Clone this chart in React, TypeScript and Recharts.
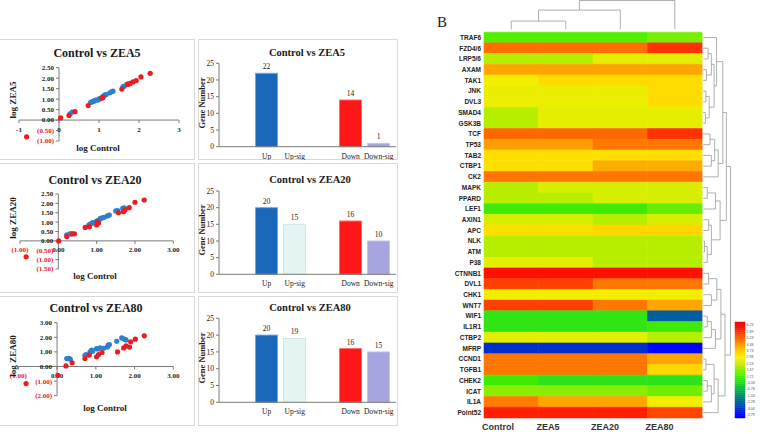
import {
  ScatterChart,
  Scatter,
  BarChart,
  Bar,
  Cell,
  LabelList,
  ComposedChart,
  XAxis,
  YAxis,
  ReferenceLine,
  ReferenceDot,
  ReferenceArea,
} from "recharts";

const SERIF = '"Liberation Serif", "Times New Roman", serif';
const SANS = '"Liberation Sans", Arial, sans-serif';
const INK = "#1a1a1a";
const NEG_RED = "#E8161E";
const AXIS = "#7a7a7a";
const FRAME = "#d9d9d9";
const DOT_BLUE = "#2E7FD0";
const DOT_RED = "#EA1C22";

type Pt = [number, number];

// log10 expression: control (x) vs treatment (y); up = blue, down = red
const ZEA5_UP: Pt[] = [
  [0.28, 0.3], [0.33, 0.38], [0.79, 0.84], [0.83, 0.87], [0.86, 0.91], [0.9, 0.93],
  [0.98, 0.96], [1.02, 1.03], [1.08, 1.1], [1.15, 1.2], [1.18, 1.22], [1.27, 1.3],
  [1.32, 1.36], [1.35, 1.38], [1.6, 1.6], [1.63, 1.62], [1.7, 1.72], [1.73, 1.72],
  [0.86, 0.89], [1.0, 1.0], [1.12, 1.15], [0.92, 0.95],
];
const ZEA5_DOWN: Pt[] = [
  [-0.81, -0.8], [0.04, 0.1], [0.25, 0.22], [0.4, 0.4], [0.73, 0.69], [1.07, 1.04],
  [1.1, 1.08], [1.57, 1.48], [1.72, 1.7], [1.78, 1.75], [1.85, 1.82], [1.93, 1.89],
  [2.05, 2.06], [2.28, 2.23],
];
const ZEA20_UP: Pt[] = [
  [0.22, 0.32], [0.3, 0.37], [0.33, 0.38], [0.8, 0.86], [0.83, 0.9], [0.88, 0.95],
  [0.9, 0.97], [1.0, 1.06], [1.05, 1.1], [1.09, 1.17], [1.16, 1.24], [1.2, 1.26],
  [1.28, 1.33], [1.33, 1.38], [1.5, 1.6], [1.55, 1.62], [1.68, 1.74], [1.72, 1.76],
  [1.74, 1.7], [1.1, 1.2],
];
const ZEA20_DOWN: Pt[] = [
  [-0.84, -0.85], [0.01, 0.0], [0.22, 0.23], [0.37, 0.37], [0.42, 0.38], [0.7, 0.72],
  [0.81, 0.76], [1.0, 0.85], [1.02, 1.03], [1.05, 0.95], [1.57, 1.5], [1.7, 1.56],
  [1.74, 1.65], [1.85, 1.77], [2.0, 2.06], [2.24, 2.18],
];
const ZEA80_UP: Pt[] = [
  [0.25, 0.54], [0.34, 0.5], [0.3, 0.55], [0.72, 0.77], [0.75, 0.82], [0.85, 1.0],
  [0.89, 1.12], [0.92, 1.05], [1.02, 1.23], [1.05, 1.2], [1.11, 1.28], [1.2, 1.25],
  [1.32, 1.46], [1.35, 1.5], [1.3, 1.34], [1.54, 1.73], [1.67, 1.96], [1.72, 1.9],
  [1.76, 1.85], [1.78, 1.82],
];
const ZEA80_DOWN: Pt[] = [
  [-0.8, -1.17], [0.02, -0.6], [0.23, 0.04], [0.39, 0.25], [0.72, 0.55], [0.83, 0.78],
  [1.02, 0.66], [1.07, 0.82], [1.16, 0.96], [1.56, 1.0], [1.72, 1.27], [1.78, 1.41],
  [1.87, 1.33], [1.9, 1.69], [2.02, 1.87], [2.25, 2.1],
];

const X_TICKS = [-1, 0, 1, 2, 3];
const ZEA5_Y_TICKS = [-1, -0.5, 0, 0.5, 1, 1.5, 2, 2.5];
const ZEA20_Y_TICKS = [-1.5, -1, -0.5, 0, 0.5, 1, 1.5, 2, 2.5];
const ZEA80_Y_TICKS = [-2, -1, 0, 1, 2, 3];

// differentially expressed gene counts
const DEG_LABELS = ["Up", "Up-sig", "", "Down", "Down-sig"];
const ZEA5_DEG = [22, 0, null, 14, 1];
const ZEA20_DEG = [20, 15, null, 16, 10];
const ZEA80_DEG = [20, 19, null, 16, 15];
const DEG_TICKS = [0, 5, 10, 15, 20, 25];

const DEG_FILL = ["#1B67BA", "#E4F4F3", "transparent", "#FF1616", "#A5A5DF"];
const DEG_EDGE = ["#70A8DE", "#CFE6E6", "transparent", "#FF7070", "#C4C4EC"];

// heatmap
const GROUPS = ["Control", "ZEA5", "ZEA20", "ZEA80"];
const GENES = [
  "TRAF6", "FZD4/6", "LRP5/6", "AXAM", "TAK1", "JNK", "DVL3", "SMAD4", "GSK3B",
  "TCF", "TP53", "TAB2", "CTBP1", "CK2", "MAPK", "PPARD", "LEF1", "AXIN1", "APC",
  "NLK", "ATM", "P38", "CTNNB1", "DVL1", "CHK1", "WNT7", "WIF1", "IL1R1", "CTBP2",
  "MFRP", "CCND1", "TGFB1", "CHEK2", "ICAT", "IL1A", "Point52",
];
const EXPR: number[][] = [
  [0.9, 0.9, 0.9, 1.3],
  [5.1, 5.1, 5.1, 6.0],
  [2.0, 2.0, 2.6, 2.6],
  [4.3, 4.3, 4.3, 4.3],
  [2.8, 3.4, 3.4, 3.4],
  [2.7, 2.7, 2.7, 3.4],
  [2.7, 2.7, 2.7, 3.4],
  [2.0, 2.6, 2.6, 2.6],
  [2.0, 2.6, 2.6, 2.6],
  [5.2, 5.2, 5.2, 6.0],
  [4.4, 4.4, 5.0, 5.0],
  [3.3, 3.3, 3.3, 3.3],
  [3.3, 3.3, 4.2, 4.2],
  [5.0, 5.0, 5.0, 5.0],
  [2.0, 2.4, 2.4, 2.4],
  [2.0, 2.0, 2.4, 2.4],
  [0.6, 0.6, 0.6, 1.1],
  [2.4, 2.4, 2.0, 2.4],
  [3.3, 3.3, 3.5, 3.5],
  [2.0, 2.0, 2.0, 2.0],
  [2.0, 2.0, 2.0, 2.0],
  [2.6, 2.6, 2.0, 2.0],
  [6.5, 6.5, 6.5, 6.5],
  [5.8, 5.8, 5.0, 5.0],
  [2.8, 2.8, 2.8, 2.8],
  [5.8, 5.8, 5.0, 4.3],
  [0.3, 0.3, 0.3, -2.4],
  [0.3, 0.3, 0.3, 0.6],
  [2.6, 2.6, 2.6, 2.0],
  [-3.1, -3.1, -3.1, -3.7],
  [5.0, 5.0, 5.0, 4.3],
  [5.0, 5.0, 5.0, 3.5],
  [0.6, 0.2, 0.2, 0.2],
  [1.5, 1.5, 1.5, 1.2],
  [4.9, 4.3, 4.3, 2.8],
  [6.3, 6.3, 6.3, 5.7],
];
const SCALE_STOPS = [
  6.74, 5.99, 5.23, 4.48, 3.73, 2.98, 2.23, 1.47, 0.72, -0.03, -0.78, -1.53, -2.28, -3.04, -3.79,
];
const SCALE_COLORS = [
  "#ff0000", "#ff3300", "#ff6600", "#ff9900", "#ffcc00", "#ffee00", "#ccee00", "#88ee00",
  "#44ee00", "#22dd22", "#00bb44", "#008877", "#006699", "#0033cc", "#0000ff",
];

// clustering trees: leaf = index, node = [left, right, merge height 0..1]
type Tree = number | [Tree, Tree, number];
const COL_TREE: Tree = [[[0, 1, 0.29], 2, 0.67], 3, 1];
const ROW_TREE: Tree = [
  [
    [
      [0, [[[1, 2, 0.18], [3, 4, 0.12], 0.3], [[5, 6, 0.1], [7, 8, 0.08], 0.22], 0.4], 0.49],
      [[[9, 10, 0.25], [11, 12, 0.3], 0.42], 13, 0.55],
      0.72,
    ],
    [[[14, 15, 0.15], 16, 0.45], [[17, 18, 0.2], [[19, 20, 0.05], 21, 0.15], 0.3], 0.62],
    0.85,
  ],
  [
    [[[22, 23, 0.2], [24, 25, 0.3], 0.5], [[[26, 27, 0.15], 28, 0.3], 29, 0.45], 0.65],
    [[[30, 31, 0.1], [[32, 33, 0.15], 34, 0.3], 0.4], 35, 0.55],
    0.8,
  ],
  1,
];

const hex = (c: string) => [1, 3, 5].map((i) => parseInt(c.slice(i, i + 2), 16));

function heatColor(v: number) {
  if (v >= SCALE_STOPS[0]) return SCALE_COLORS[0];
  for (let i = 1; i < SCALE_STOPS.length; i++) {
    if (v >= SCALE_STOPS[i]) {
      const t = (v - SCALE_STOPS[i]) / (SCALE_STOPS[i - 1] - SCALE_STOPS[i]);
      const a = hex(SCALE_COLORS[i]);
      const b = hex(SCALE_COLORS[i - 1]);
      const rgb = a.map((c, k) => Math.round(c + (b[k] - c) * t));
      return `rgb(${rgb.join(",")})`;
    }
  }
  return SCALE_COLORS[SCALE_COLORS.length - 1];
}

// [pos1, h1, pos2, h2] segments of an elbow dendrogram
function dendro(tree: Tree) {
  const segs: number[][] = [];
  const walk = (t: Tree): { pos: number; h: number } => {
    if (typeof t === "number") return { pos: t + 0.5, h: 0 };
    const a = walk(t[0]);
    const b = walk(t[1]);
    segs.push([a.pos, a.h, a.pos, t[2]], [b.pos, b.h, b.pos, t[2]], [a.pos, t[2], b.pos, t[2]]);
    return { pos: (a.pos + b.pos) / 2, h: t[2] };
  };
  walk(tree);
  return segs;
}

const fmt2 = (v: number) => (v < 0 ? `(${Math.abs(v).toFixed(2)})` : v.toFixed(2));
const noMark = () => <g />;

function Txt({ x, y, size, children, rotate = false, family = SERIF, weight = 700, color = INK }: any) {
  return (
    <div
      style={{
        position: "absolute",
        left: x,
        top: y,
        transform: `translate(-50%, -50%)${rotate ? " rotate(-90deg)" : ""}`,
        fontSize: size,
        fontWeight: weight,
        fontFamily: family,
        color,
        whiteSpace: "nowrap",
        lineHeight: 1,
      }}
    >
      {children}
    </div>
  );
}

function Frame({ x, y, w, h }: any) {
  return (
    <div
      style={{
        position: "absolute",
        left: x,
        top: y,
        width: w,
        height: h,
        border: `1px solid ${FRAME}`,
        boxSizing: "border-box",
      }}
    />
  );
}

const xTickShape = (label: string, color: string) => (p: any) => (
  <g>
    <line x1={p.cx} y1={p.cy} x2={p.cx} y2={p.cy + 3} stroke={AXIS} />
    <text x={p.cx} y={p.cy + 11.5} textAnchor="middle" fontSize={7} fontWeight={700} fontFamily={SERIF} fill={color}>
      {label}
    </text>
  </g>
);

const yTickShape = (label: string, color: string) => (p: any) => (
  <g>
    <line x1={p.cx - 3} y1={p.cy} x2={p.cx} y2={p.cy} stroke={AXIS} />
    <text x={p.cx - 5} y={p.cy + 2.4} textAnchor="end" fontSize={7} fontWeight={700} fontFamily={SERIF} fill={color}>
      {label}
    </text>
  </g>
);

const SCATTER_PANELS = [
  {
    name: "ZEA5", up: ZEA5_UP, down: ZEA5_DOWN, yTicks: ZEA5_Y_TICKS, xFmt: (v: number) => String(v),
    top: 39, height: 121, margin: { top: 28.7, right: 17, bottom: 19, left: 19 },
    title: [97, 53], xTitle: [98, 148], yTitle: [13, 100],
  },
  {
    name: "ZEA20", up: ZEA20_UP, down: ZEA20_DOWN, yTicks: ZEA20_Y_TICKS, xFmt: fmt2,
    top: 163, height: 130, margin: { top: 31, right: 22.7, bottom: 24, left: 20 },
    title: [95, 180], xTitle: [95, 276], yTitle: [13, 218],
  },
  {
    name: "ZEA80", up: ZEA80_UP, down: ZEA80_DOWN, yTicks: ZEA80_Y_TICKS, xFmt: fmt2,
    top: 296, height: 130, margin: { top: 26.7, right: 22.7, bottom: 30.3, left: 18.3 },
    title: [96, 308], xTitle: [105, 408], yTitle: [13, 356],
  },
];

const DEG_PANELS = [
  { name: "ZEA5", counts: ZEA5_DEG, top: 39, height: 121, plotTop: 63.3, plotBottom: 146.7, title: [307, 53], yTitle: [202, 103] },
  { name: "ZEA20", counts: ZEA20_DEG, top: 163, height: 130, plotTop: 191, plotBottom: 274.3, title: [310, 180], yTitle: [202, 230] },
  { name: "ZEA80", counts: ZEA80_DEG, top: 296, height: 130, plotTop: 318.3, plotBottom: 402.3, title: [310, 308], yTitle: [202, 358] },
];

function ScatterPanel({ p }: any) {
  const yMin = p.yTicks[0];
  const yMax = p.yTicks[p.yTicks.length - 1];
  const toRows = (pts: Pt[]) => pts.map(([x, y]) => ({ x, y }));
  const dot = (fill: string) => (s: any) => <circle cx={s.cx} cy={s.cy} r={2.6} fill={fill} />;
  return (
    <>
      <Frame x={-1} y={p.top} w={196} h={p.height} />
      <div style={{ position: "absolute", left: 0, top: p.top }}>
        <ScatterChart width={196} height={p.height} margin={p.margin}>
          <XAxis type="number" dataKey="x" domain={[-1, 3]} hide allowDataOverflow />
          <YAxis type="number" dataKey="y" domain={[yMin, yMax]} hide allowDataOverflow />
          <ReferenceLine y={0} stroke={AXIS} />
          <ReferenceLine x={0} stroke={AXIS} />
          {X_TICKS.map((t) => (
            <ReferenceDot key={`x${t}`} x={t} y={0} shape={xTickShape(p.xFmt(t), t < 0 && p.name !== "ZEA5" ? NEG_RED : INK)} />
          ))}
          {p.yTicks.map((t: number) => (
            <ReferenceDot key={`y${t}`} x={0} y={t} shape={yTickShape(fmt2(t), t < 0 ? NEG_RED : INK)} />
          ))}
          <Scatter data={toRows(p.up)} shape={dot(DOT_BLUE)} isAnimationActive={false} />
          <Scatter data={toRows(p.down)} shape={dot(DOT_RED)} isAnimationActive={false} />
        </ScatterChart>
      </div>
      <Txt x={p.title[0]} y={p.title[1]} size={12}>Control vs {p.name}</Txt>
      <Txt x={p.xTitle[0]} y={p.xTitle[1]} size={9}>log Control</Txt>
      <Txt x={p.yTitle[0]} y={p.yTitle[1]} size={9} rotate>log {p.name}</Txt>
    </>
  );
}

function DegPanel({ p }: any) {
  const data = DEG_LABELS.map((name, i) => ({ name, value: p.counts[i] }));
  const tickFont = { fontSize: 7.5, fill: INK, fontFamily: SERIF };
  return (
    <>
      <Frame x={198} y={p.top} w={200} h={p.height} />
      <div style={{ position: "absolute", left: 198, top: p.top }}>
        <BarChart
          width={200}
          height={p.height}
          data={data}
          barCategoryGap="10%"
          margin={{ top: p.plotTop - p.top, right: 2, bottom: 0, left: 0 }}
        >
          <XAxis
            dataKey="name"
            height={p.top + p.height - p.plotBottom}
            interval={0}
            tickLine={false}
            tickSize={4}
            tickMargin={2.5}
            axisLine={{ stroke: AXIS }}
            padding={{ left: 33.7, right: 3.3 }}
            tick={tickFont}
          />
          <YAxis
            width={21}
            domain={[0, 25]}
            ticks={DEG_TICKS}
            interval={0}
            tickSize={3}
            tickMargin={2}
            axisLine={{ stroke: AXIS }}
            tickLine={{ stroke: AXIS }}
            tick={tickFont}
          />
          <Bar dataKey="value" isAnimationActive={false}>
            {data.map((_, i) => (
              <Cell key={i} fill={DEG_FILL[i]} stroke={DEG_EDGE[i]} />
            ))}
            <LabelList dataKey="value" position="top" offset={4} style={tickFont} />
          </Bar>
        </BarChart>
      </div>
      <Txt x={p.title[0]} y={p.title[1]} size={10.5}>Control vs {p.name}</Txt>
      <Txt x={p.yTitle[0]} y={p.yTitle[1]} size={8.5} rotate>Gene Number</Txt>
    </>
  );
}

// heatmap chart layout in data units: columns 0..4, rows 0..36
const HEAT_X_MAX = 4.53;
const HEAT_Y_MIN = -3;
const ROW_DENDRO_X = 4.02;
const ROW_DENDRO_W = 0.5;
const COL_DENDRO_Y = -0.25;
const COL_DENDRO_H = 2.7;
const TREE_STROKE = "#9a9a9a";

function Heatmap() {
  const cells = EXPR.flatMap((row, r) => row.map((v, c) => ({ x: c + 0.5, y: r + 0.5, v })));
  const colSegs = dendro(COL_TREE).map(([p1, h1, p2, h2]) => [
    { x: p1, y: COL_DENDRO_Y - h1 * COL_DENDRO_H },
    { x: p2, y: COL_DENDRO_Y - h2 * COL_DENDRO_H },
  ]);
  const rowSegs = dendro(ROW_TREE).map(([p1, h1, p2, h2]) => [
    { x: ROW_DENDRO_X + h1 * ROW_DENDRO_W, y: p1 },
    { x: ROW_DENDRO_X + h2 * ROW_DENDRO_W, y: p2 },
  ]);
  return (
    <div style={{ position: "absolute", left: 430, top: 0 }}>
      <ComposedChart width={301} height={434} data={cells} margin={{ top: 0, right: 0, bottom: 0, left: 0 }}>
        <XAxis
          type="number"
          dataKey="x"
          domain={[0, HEAT_X_MAX]}
          allowDataOverflow
          ticks={[0, 1, 2, 3]}
          interval={0}
          height={16}
          axisLine={false}
          tickLine={false}
          tickSize={0}
          tickMargin={0}
          tick={(t: any) => (
            <text x={t.x - 2} y={t.y + 12} textAnchor="start" fontSize={9} fontWeight={700} fontFamily={SANS} fill="#333">
              {GROUPS[t.payload.value]}
            </text>
          )}
        />
        <YAxis
          type="number"
          dataKey="y"
          domain={[HEAT_Y_MIN, GENES.length]}
          reversed
          allowDataOverflow
          ticks={GENES.map((_, i) => i + 0.5)}
          tickFormatter={(v: number) => GENES[Math.floor(v)]}
          interval={0}
          width={54}
          axisLine={false}
          tickLine={false}
          tickSize={0}
          tickMargin={3}
          tick={{ fontSize: 6.5, fontWeight: 700, fontFamily: SANS, fill: "#222" }}
        />
        {cells.map((d, i) => {
          const fill = heatColor(d.v);
          return (
            <ReferenceArea
              key={`c${i}`}
              x1={d.x - 0.5}
              x2={d.x + 0.5}
              y1={d.y - 0.5}
              y2={d.y + 0.5}
              fill={fill}
              fillOpacity={1}
              stroke={fill}
              strokeWidth={0.6}
            />
          );
        })}
        {[...colSegs, ...rowSegs].map((s, i) => (
          <ReferenceLine key={`d${i}`} segment={s} stroke={TREE_STROKE} strokeWidth={0.8} />
        ))}
        <Scatter data={cells} shape={noMark} isAnimationActive={false} />
      </ComposedChart>
    </div>
  );
}

function ColorKey() {
  const half = (SCALE_STOPS[0] - SCALE_STOPS[SCALE_STOPS.length - 1]) / (SCALE_STOPS.length - 1) / 2;
  const lo = SCALE_STOPS[SCALE_STOPS.length - 1] - half;
  const hi = SCALE_STOPS[0] + half;
  const step = (hi - lo) / 45;
  const bands = Array.from({ length: 45 }, (_, i) => ({ x: 0.5, y: lo + (i + 0.5) * step }));
  return (
    <div style={{ position: "absolute", left: 730, top: 318 }}>
      <ComposedChart width={30} height={104} data={bands} margin={{ top: 4, right: 0, bottom: 4, left: 5 }}>
        <XAxis type="number" dataKey="x" domain={[0, 1]} hide allowDataOverflow />
        <YAxis
          orientation="right"
          type="number"
          dataKey="y"
          domain={[lo, hi]}
          allowDataOverflow
          ticks={SCALE_STOPS}
          interval={0}
          width={15}
          axisLine={false}
          tickLine={false}
          tickSize={0}
          tickMargin={1.5}
          tickFormatter={(v: number) => v.toFixed(2)}
          tick={{ fontSize: 3.6, fill: "#555", fontFamily: SANS }}
        />
        {bands.map((b, i) => {
          const fill = heatColor(b.y);
          return (
            <ReferenceArea
              key={i}
              x1={0}
              x2={1}
              y1={b.y - step / 2}
              y2={b.y + step / 2}
              fill={fill}
              fillOpacity={1}
              stroke={fill}
              strokeWidth={0.5}
            />
          );
        })}
        <Scatter data={bands} shape={noMark} isAnimationActive={false} />
      </ComposedChart>
    </div>
  );
}

export default function App() {
  return (
    <div
      style={{
        position: "absolute",
        left: 0,
        top: 0,
        width: 760,
        height: 434,
        background: "#fff",
        overflow: "hidden",
      }}
    >
      {SCATTER_PANELS.map((p) => (
        <ScatterPanel key={p.name} p={p} />
      ))}
      {DEG_PANELS.map((p) => (
        <DegPanel key={p.name} p={p} />
      ))}
      <Heatmap />
      <ColorKey />
      <Txt x={442} y={22} size={15} weight={400}>B</Txt>
    </div>
  );
}
